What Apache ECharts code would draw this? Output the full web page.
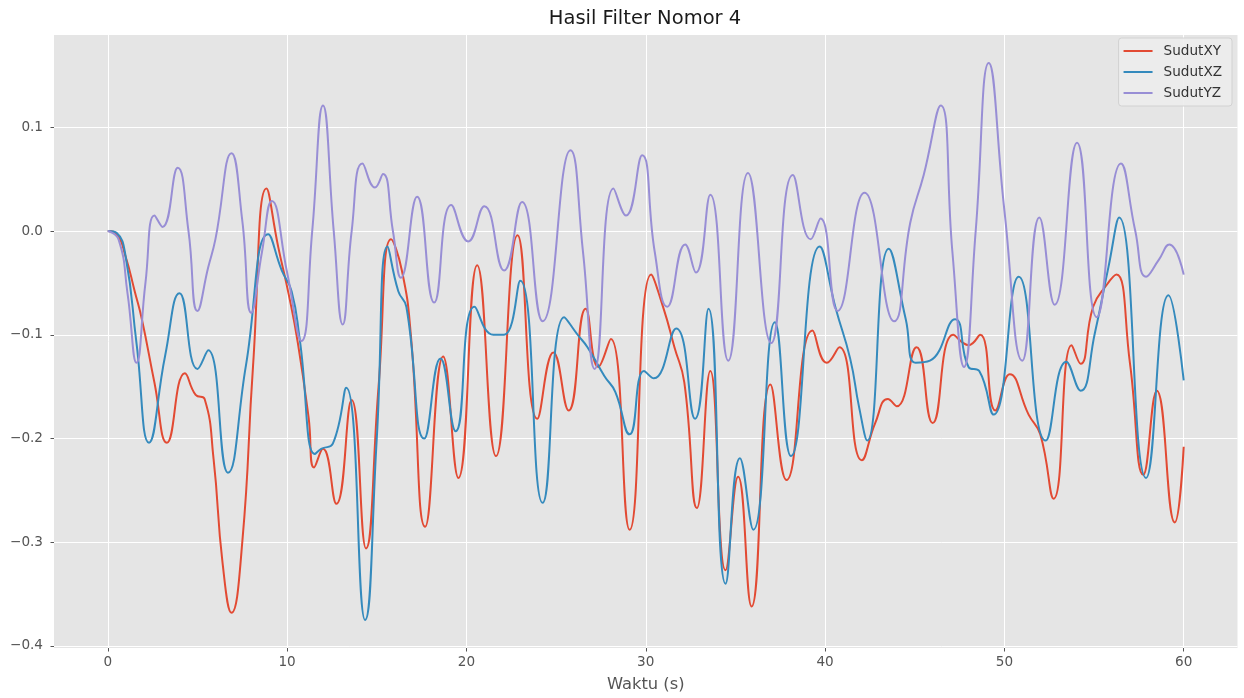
<!DOCTYPE html>
<html>
<head>
<meta charset="utf-8">
<title>Hasil Filter Nomor 4</title>
<script src="https://cdn.jsdelivr.net/npm/echarts@6/dist/echarts.min.js"></script>
<style>
	html, body { margin: 0; padding: 0; background: #ffffff; }
	#chart { width: 1244px; height: 698px; }
</style>
</head>
<body>
<div id="chart"></div>
<script>
// Time stamps (s) and angle values, one pair of arrays per series.
const xyTime = [0, 0.5, 1.0, 1.5, 1.9, 2.6, 3.3, 4.3, 4.9, 5.4, 5.9, 6.4, 6.9, 7.5, 8.1, 8.85, 9.5, 10.1, 10.6, 11.2, 11.5, 12.0, 12.75, 13.6, 14.4, 15.1, 15.8, 16.4, 16.9, 17.7, 18.7, 19.55, 20.6, 21.65, 22.85, 23.95, 24.85, 25.7, 26.65, 27.35, 28.05, 29.1, 30.3, 31.0, 31.6, 32.15, 32.85, 33.6, 34.45, 35.15, 35.9, 36.95, 37.85, 39.3, 40.1, 40.8, 42.05, 42.8, 43.5, 44.0, 45.1, 46.0, 47.15, 48.0, 48.65, 49.5, 50.3, 51.35, 52.0, 52.75, 53.75, 54.25, 54.95, 55.7, 56.25, 57.0, 57.75, 58.5, 59.5, 60.0];
const xyValues = [0, -0.003, -0.025, -0.058, -0.085, -0.146, -0.204, -0.137, -0.158, -0.162, -0.22, -0.32, -0.368, -0.3, -0.13, 0.041, -0.015, -0.062, -0.108, -0.18, -0.228, -0.21, -0.263, -0.163, -0.306, -0.15, -0.008, -0.038, -0.1, -0.285, -0.121, -0.238, -0.033, -0.217, -0.004, -0.181, -0.117, -0.173, -0.075, -0.131, -0.104, -0.288, -0.042, -0.075, -0.112, -0.146, -0.267, -0.135, -0.327, -0.237, -0.362, -0.148, -0.24, -0.096, -0.127, -0.112, -0.221, -0.185, -0.162, -0.169, -0.112, -0.185, -0.1, -0.11, -0.1, -0.173, -0.138, -0.177, -0.196, -0.258, -0.11, -0.128, -0.073, -0.052, -0.042, -0.127, -0.235, -0.154, -0.281, -0.208];

const xzTime = [0, 0.5, 1.0, 1.6, 2.3, 3.2, 4.0, 5.0, 5.6, 6.7, 7.7, 8.95, 9.7, 10.25, 10.7, 11.55, 11.9, 12.55, 13.3, 14.35, 15.0, 15.6, 16.2, 16.65, 17.65, 18.55, 19.4, 20.45, 21.5, 22.1, 23.0, 24.25, 25.45, 26.2, 26.75, 27.7, 28.3, 29.1, 29.9, 30.45, 31.7, 32.75, 33.5, 34.45, 35.25, 36.0, 37.2, 38.1, 39.7, 40.6, 41.4, 41.9, 42.35, 43.55, 44.5, 45.05, 45.85, 47.25, 48.0, 48.6, 49.4, 50.8, 52.3, 53.45, 54.25, 55.05, 55.8, 56.4, 57.9, 59.15, 60.0];
const xzValues = [0, -0.002, -0.025, -0.108, -0.204, -0.12, -0.06, -0.133, -0.115, -0.233, -0.13, -0.003, -0.038, -0.058, -0.104, -0.215, -0.21, -0.205, -0.151, -0.375, -0.2, -0.015, -0.058, -0.073, -0.2, -0.123, -0.193, -0.073, -0.1, -0.1, -0.048, -0.262, -0.083, -0.1, -0.112, -0.14, -0.155, -0.196, -0.135, -0.142, -0.094, -0.181, -0.075, -0.34, -0.219, -0.288, -0.088, -0.217, -0.015, -0.075, -0.123, -0.17, -0.202, -0.017, -0.085, -0.127, -0.125, -0.085, -0.131, -0.135, -0.177, -0.044, -0.202, -0.126, -0.154, -0.098, -0.035, 0.013, -0.238, -0.062, -0.144];

const yzTime = [0, 0.6, 1.1, 1.6, 2.1, 2.6, 3.05, 3.9, 4.5, 5.0, 5.6, 6.0, 6.9, 7.5, 8.0, 8.6, 9.15, 10.0, 10.8, 11.4, 12.0, 12.6, 13.1, 13.6, 14.2, 14.9, 15.35, 15.9, 16.35, 17.25, 18.2, 19.15, 20.1, 21.0, 22.1, 23.1, 24.25, 25.8, 26.5, 27.15, 28.2, 28.9, 29.8, 30.5, 31.2, 32.2, 32.8, 33.6, 34.6, 35.7, 37.0, 38.2, 39.2, 39.75, 40.7, 42.2, 43.85, 44.75, 45.5, 46.45, 47.1, 47.75, 48.4, 49.13, 50.0, 51.0, 51.95, 52.8, 54.05, 55.15, 56.5, 57.3, 57.9, 58.6, 59.2, 60.0];
const yzValues = [0, -0.008, -0.06, -0.127, -0.05, 0.015, 0.004, 0.061, 0.0, -0.077, -0.035, -0.008, 0.075, 0.01, -0.079, -0.02, 0.029, -0.04, -0.106, 0.0, 0.121, 0.0, -0.09, 0.0, 0.065, 0.042, 0.055, 0.0, -0.045, 0.033, -0.069, 0.025, -0.01, 0.024, -0.038, 0.028, -0.087, 0.078, -0.02, -0.133, 0.041, 0.015, 0.073, -0.02, -0.073, -0.013, -0.04, 0.035, -0.125, 0.056, -0.108, 0.054, -0.008, 0.012, -0.077, 0.037, -0.087, 0.008, 0.054, 0.121, -0.02, -0.131, 0.0, 0.162, 0.02, -0.125, 0.013, -0.071, 0.085, -0.083, 0.065, 0.0, -0.044, -0.028, -0.013, -0.042];

const seriesNames = ["SudutXY", "SudutXZ", "SudutYZ"];
const seriesColors = ["#E24A33", "#348ABD", "#988ED5"];
const xTicks = [0, 10, 20, 30, 40, 50, 60];
const yTicks = [-0.4, -0.3, -0.2, -0.1, 0.0, 0.1];

const FONT = "DejaVu Sans";
const TICK_COLOR = "#555555";

function zip(times, values) {
	return times.map((t, i) => [t, values[i]]);
}

function formatYTick(value) {
	if (value < -1e-9) {
		return "\u2212" + Math.abs(value).toFixed(1);
	}
	return Math.abs(value).toFixed(1);
}

function buildChartOption() {
	const pairs = [zip(xyTime, xyValues), zip(xzTime, xzValues), zip(yzTime, yzValues)];
	return {
		animation: false,
		backgroundColor: "#ffffff",
		textStyle: { fontFamily: FONT },
		title: {
			text: "Hasil Filter Nomor 4",
			left: 645,
			top: 9,
			padding: 0,
			textAlign: "center",
			textStyle: { fontFamily: FONT, fontSize: 19.5, fontWeight: "normal", color: "#1a1a1a" },
		},
		legend: {
			orient: "vertical",
			right: 12,
			top: 38,
			padding: [6, 10, 6, 5],
			icon: "rect",
			itemWidth: 29,
			itemHeight: 2,
			itemGap: 7,
			backgroundColor: "rgba(236,236,236,0.9)",
			borderColor: "#d2d2d2",
			borderWidth: 1,
			borderRadius: 3,
			textStyle: { fontFamily: FONT, fontSize: 13.6, color: "#333333", padding: [0, 0, 0, 6] },
			data: seriesNames,
		},
		grid: {
			left: 54,
			top: 35,
			right: 6.5,
			bottom: 48,
			show: true,
			backgroundColor: "#E5E5E5",
			borderWidth: 0,
		},
		xAxis: {
			type: "value",
			min: -3,
			max: 63,
			name: "Waktu (s)",
			nameLocation: "middle",
			nameGap: 29,
			nameTextStyle: { fontFamily: FONT, fontSize: 16.3, color: TICK_COLOR },
			axisLine: { show: false, onZero: false },
			axisTick: { show: true, length: 3.5, customValues: xTicks, lineStyle: { color: TICK_COLOR } },
			axisLabel: { customValues: xTicks, margin: 7, fontFamily: FONT, fontSize: 13.6, color: TICK_COLOR },
			splitLine: { show: true, lineStyle: { color: "#ffffff", width: 1 } },
		},
		yAxis: {
			type: "value",
			min: -0.402,
			max: 0.189,
			axisLine: { show: false, onZero: false },
			axisTick: { show: true, length: 3.5, customValues: yTicks, lineStyle: { color: TICK_COLOR } },
			axisLabel: {
				customValues: yTicks,
				margin: 11,
				fontFamily: FONT,
				fontSize: 13.6,
				color: TICK_COLOR,
				formatter: formatYTick,
			},
			splitLine: { show: true, lineStyle: { color: "#ffffff", width: 1 } },
		},
		series: pairs.map((data, i) => ({
			name: seriesNames[i],
			type: "line",
			data: data,
			smooth: 0.5,
			showSymbol: false,
			symbol: "none",
			color: seriesColors[i],
			lineStyle: { color: seriesColors[i], width: 2 },
		})),
	};
}

const chart = echarts.init(document.getElementById("chart"), null, { renderer: "canvas" });
chart.setOption(buildChartOption());
</script>
</body>
</html>
